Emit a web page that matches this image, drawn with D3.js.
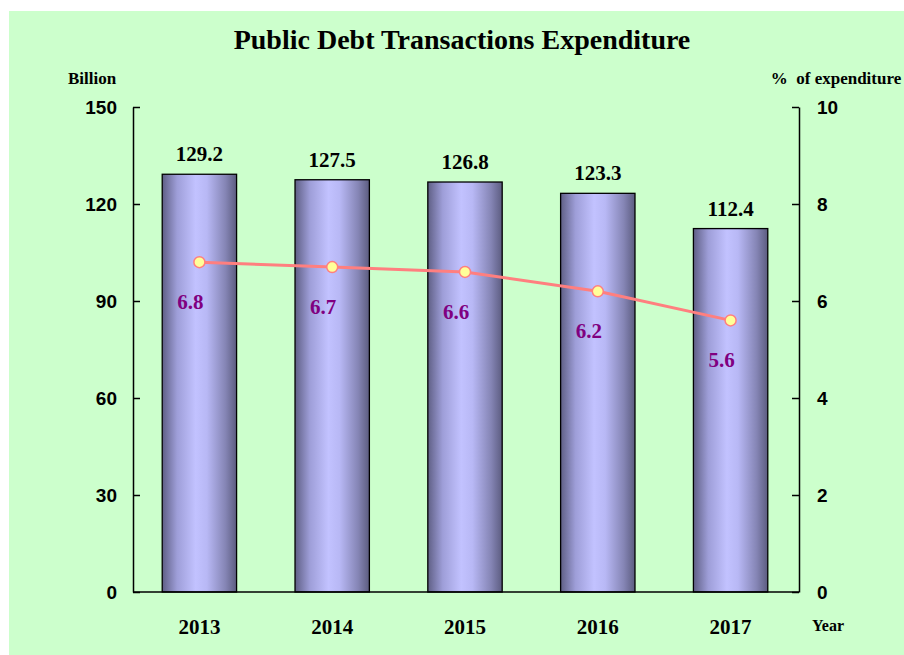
<!DOCTYPE html>
<html><head><meta charset="utf-8">
<script src="https://cdn.jsdelivr.net/npm/d3@7"></script>
<style>html,body{margin:0;padding:0;background:#fff;}svg{display:block;}</style>
</head><body>
<svg id="c" width="904" height="655"></svg>
<script>
const years = ["2013","2014","2015","2016","2017"];
const expenditure = [129.2,127.5,126.8,123.3,112.4];
const pctOfExpenditure = [6.8,6.7,6.6,6.2,5.6];
const leftTicks = [0,30,60,90,120,150];
const rightTicks = [0,2,4,6,8,10];

const svg = d3.select("#c");
svg.append("rect").attr("x",9).attr("y",11).attr("width",895).attr("height",644).attr("fill","#CCFFCC");

const defs = svg.append("defs");
const g = defs.append("linearGradient").attr("id","barg").attr("x1","0").attr("x2","1").attr("y1","0").attr("y2","0");
[[0,"#5f5f85"],[0.2,"#9e9ed8"],[0.45,"#c2c2ff"],[0.6,"#b8b8f5"],[0.85,"#8585b5"],[1,"#5c5c80"]].forEach(([o,c])=>g.append("stop").attr("offset",o).attr("stop-color",c));

const L=133, R=797, T=107, B=592;
const x = d3.scaleBand().domain(years).range([L,R]).paddingInner(0.44).paddingOuter(0.22);
const yL = d3.scaleLinear().domain([0,150]).range([B,T]);
const yR = d3.scaleLinear().domain([0,10]).range([B,T]);
const serif = "Liberation Serif";

svg.append("text").attr("x",462).attr("y",49).attr("text-anchor","middle")
  .attr("font-family",serif).attr("font-weight","bold").attr("font-size",28).text("Public Debt Transactions Expenditure");

// bars
svg.selectAll("rect.bar").data(years).join("rect").attr("class","bar")
  .attr("x",d=>x(d)).attr("width",x.bandwidth())
  .attr("y",(d,i)=>yL(expenditure[i])).attr("height",(d,i)=>B-yL(expenditure[i]))
  .attr("fill","url(#barg)").attr("stroke","#000").attr("stroke-width",1.3);

svg.selectAll("text.bl").data(years).join("text").attr("class","bl")
  .attr("x",d=>x(d)+x.bandwidth()/2).attr("y",(d,i)=>yL(expenditure[i])-13)
  .attr("text-anchor","middle").attr("font-family",serif).attr("font-weight","bold").attr("font-size",21)
  .text((d,i)=>expenditure[i].toFixed(1));

// axes
const axL = svg.append("g").attr("transform",`translate(${L},0)`)
  .call(d3.axisLeft(yL).tickValues(leftTicks).tickSizeInner(-7).tickSizeOuter(0).tickPadding(16));
const axR = svg.append("g").attr("transform",`translate(${R+2},0)`)
  .call(d3.axisRight(yR).tickValues(rightTicks).tickSizeInner(-7).tickSizeOuter(0).tickPadding(18));
[axL,axR].forEach(a=>{
  a.select(".domain").attr("stroke","#000").attr("stroke-width",1.5);
  a.selectAll(".tick line").attr("stroke","#000").attr("stroke-width",1.5);
  a.selectAll(".tick text").attr("font-family","Liberation Sans").attr("font-weight","bold").attr("font-size",19).attr("fill","#000");
});
const axB = svg.append("g").attr("transform",`translate(0,${B})`)
  .call(d3.axisBottom(x).tickSize(0).tickPadding(24));
axB.select(".domain").attr("stroke","#000").attr("stroke-width",1.5).attr("d",`M${L},0H${R+2}`);
axB.selectAll(".tick text").attr("font-family",serif).attr("font-weight","bold").attr("font-size",21).attr("fill","#000")
  .attr("y",42).attr("dy",0);

// line
const cx = d=>x(d)+x.bandwidth()/2;
svg.append("path").datum(years).attr("fill","none").attr("stroke","#FF7F7F").attr("stroke-width",3)
  .attr("d",d3.line().x(cx).y((d,i)=>yR(pctOfExpenditure[i])));
svg.selectAll("circle.pt").data(years).join("circle").attr("class","pt")
  .attr("cx",cx).attr("cy",(d,i)=>yR(pctOfExpenditure[i])).attr("r",5.5)
  .attr("fill","#FFFF99").attr("stroke","#FF7F7F").attr("stroke-width",1.5);
svg.selectAll("text.pl").data(years).join("text").attr("class","pl")
  .attr("x",d=>cx(d)-9).attr("y",(d,i)=>yR(pctOfExpenditure[i])+47)
  .attr("text-anchor","middle").attr("font-family",serif).attr("font-weight","bold").attr("font-size",21).attr("fill","#800080")
  .text((d,i)=>pctOfExpenditure[i].toFixed(1));

// axis titles
svg.append("text").attr("x",92).attr("y",84).attr("text-anchor","middle").attr("font-family",serif).attr("font-weight","bold").attr("font-size",17).text("Billion");
svg.append("text").attr("x",836).attr("y",84).attr("text-anchor","middle").attr("font-family",serif).attr("font-weight","bold").attr("font-size",17).attr("xml:space","preserve").text("%  of expenditure");
svg.append("text").attr("x",828).attr("y",631).attr("text-anchor","middle").attr("font-family",serif).attr("font-weight","bold").attr("font-size",16).text("Year");
</script>
</body></html>
